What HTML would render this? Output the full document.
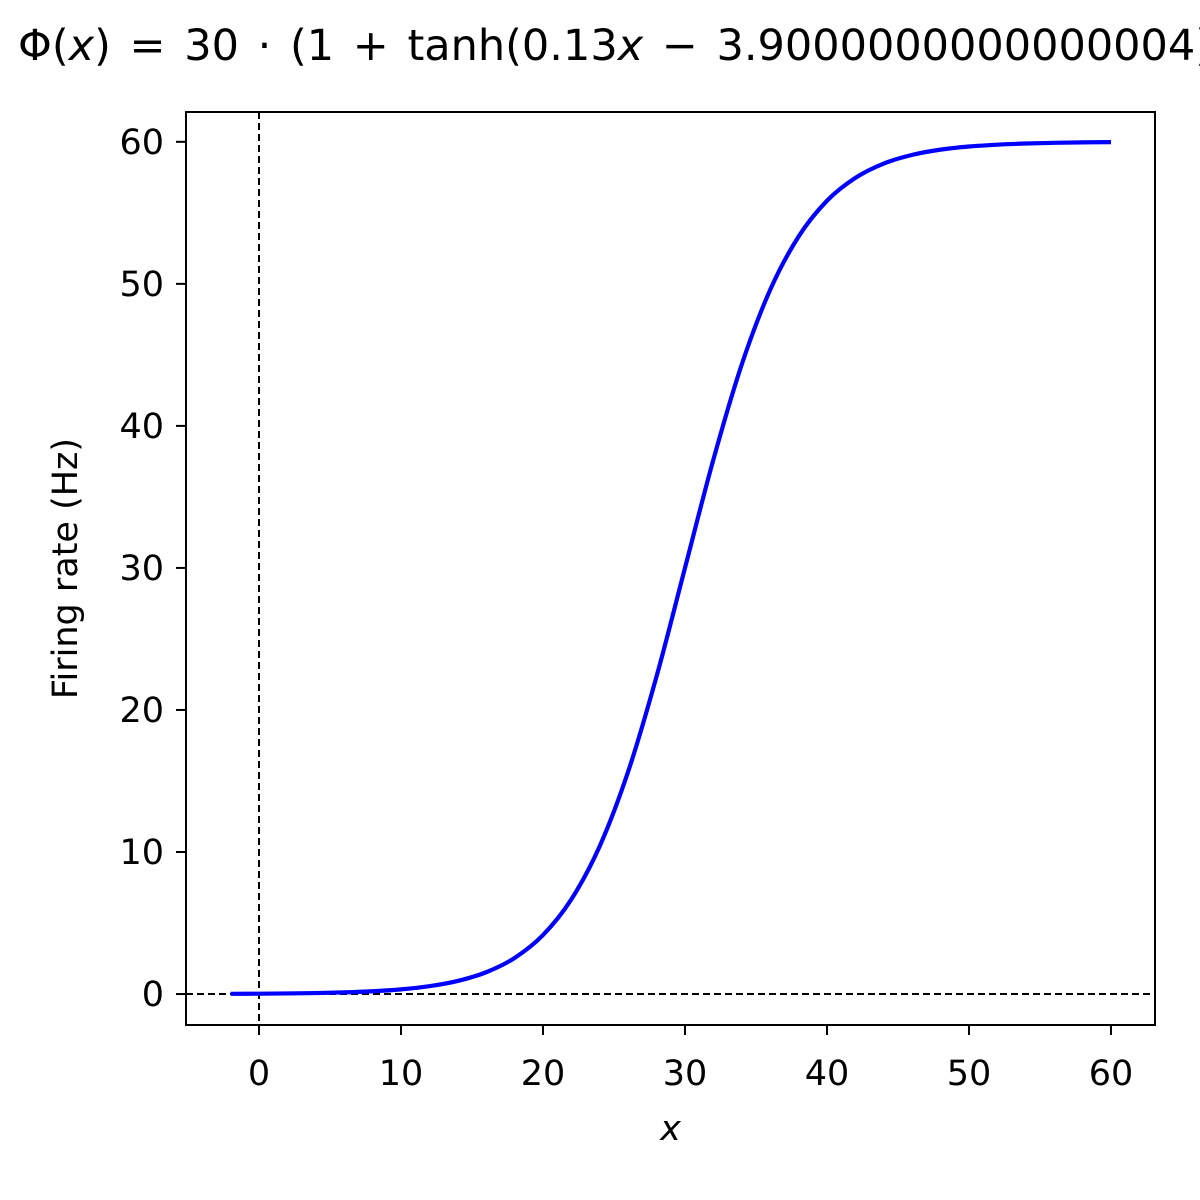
<!DOCTYPE html>
<html><head><meta charset="utf-8"><style>
html,body{margin:0;padding:0;background:#fff;overflow:hidden;width:1200px;height:1200px;}
svg{display:block;}
svg text{font-family:"DejaVu Sans","Liberation Sans",sans-serif;fill:#000;}
</style></head><body>
<svg id="chart" width="1200" height="1200" viewBox="0 0 1200 1200" xmlns="http://www.w3.org/2000/svg">
<rect width="1200" height="1200" fill="#fff"/>
<text x="18" y="60" font-size="43" word-spacing="5">Φ(<tspan font-style="italic">x</tspan>) = 30 · (1 + tanh(0.13<tspan font-style="italic">x</tspan> − 3.9000000000000004))</text>
<g id="plot"></g>
</svg>
<script>
const xValues=[-2,0,2,4,6,8,10,12,14,16,18,20,22,24,26,28,30,32,34,36,38,40,42,44,46,48,50,52,54,56,58,60];
const rateValues=[0.015,0.025,0.041,0.07,0.117,0.196,0.329,0.552,0.922,1.534,2.54,4.15,6.67,10.42,15.67,22.37,30,37.63,44.33,49.58,53.33,55.85,57.46,58.47,59.08,59.45,59.67,59.8,59.88,59.93,59.96,59.98];
const xTicks=[0,10,20,30,40,50,60];
const yTicks=[0,10,20,30,40,50,60];

const L=186,R=1155,T=112,B=1025;
const xMin=-5.14,xMax=63.1,yMin=-2.18,yMax=62.1;
const sx=v=>L+(v-xMin)/(xMax-xMin)*(R-L);
const sy=v=>B-(v-yMin)/(yMax-yMin)*(B-T);
const NS="http://www.w3.org/2000/svg";
const g=document.getElementById('plot');
function mk(tag,attrs){const e=document.createElementNS(NS,tag);for(const k in attrs)e.setAttribute(k,attrs[k]);g.appendChild(e);return e;}

let hz=mk('line',{x1:L,x2:R,y1:sy(0),y2:sy(0),stroke:'#000','stroke-width':2,'stroke-dasharray':'7,4'});


let vt=mk('line',{x1:sx(0),x2:sx(0),y1:T,y2:B,stroke:'#000','stroke-width':2,'stroke-dasharray':'7,4'});



const pts=xValues.map((x,i)=>[sx(x),sy(rateValues[i])]);
let d=`M${pts[0][0]},${pts[0][1]}`;
for(let i=0;i<pts.length-1;i++){
 const p0=pts[Math.max(0,i-1)],p1=pts[i],p2=pts[i+1],p3=pts[Math.min(pts.length-1,i+2)];
 const c1=[p1[0]+(p2[0]-p0[0])/6,p1[1]+(p2[1]-p0[1])/6];
 const c2=[p2[0]-(p3[0]-p1[0])/6,p2[1]-(p3[1]-p1[1])/6];
 d+=` C${c1[0]},${c1[1]} ${c2[0]},${c2[1]} ${p2[0]},${p2[1]}`;
}
let curve=mk('path',{d:d,fill:'none',stroke:'#0000ff','stroke-width':4.2});



let fr=mk('rect',{x:L,y:T,width:R-L,height:B-T,fill:'none',stroke:'#000','stroke-width':2});



xTicks.forEach(v=>{
 let t=mk('line',{x1:sx(v),x2:sx(v),y1:B,y2:B+10,stroke:'#000','stroke-width':2});
 
 
 let l=mk('text',{x:sx(v),y:B+60,'font-size':35,'text-anchor':'middle'});
 l.textContent=v;
 
 
});
yTicks.forEach(v=>{
 let t=mk('line',{x1:L-10,x2:L,y1:sy(v),y2:sy(v),stroke:'#000','stroke-width':2});
 
 
 let l=mk('text',{x:L-22,y:sy(v)+12,'font-size':35,'text-anchor':'end'});
 l.textContent=v;
 
 
});
let xl=mk('text',{x:(L+R)/2,y:1140,'font-size':35,'text-anchor':'middle','font-style':'italic'});
xl.textContent='x';


let yl=mk('text',{x:0,y:0,'font-size':35,'text-anchor':'middle',transform:`translate(77,${(T+B)/2}) rotate(-90)`});
yl.textContent='Firing rate (Hz)';


</script>
</body></html>
